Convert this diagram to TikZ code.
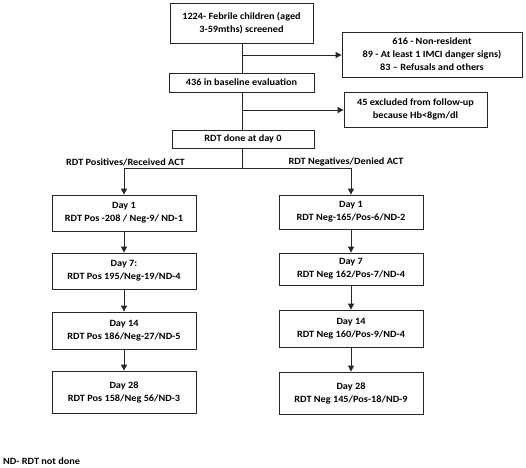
\documentclass[tikz,border=0pt]{standalone}
\usepackage{fontspec}
\setmainfont{Carlito}[FakeStretch=1.07]
\usetikzlibrary{arrows.meta}
\begin{document}
\begin{tikzpicture}[x=1pt,y=-1pt,
  box/.style={draw=black!85,line width=0.8pt,align=center,inner sep=1pt,
    font=\fontsize{9.6}{13}\selectfont\bfseries},
  lbl/.style={font=\fontsize{9.6}{13}\selectfont\bfseries,inner sep=0pt},
  arr/.style={line width=0.8pt,draw=black!85,-{Triangle[length=6pt,width=6pt]}},
  ln/.style={line width=0.8pt,draw=black!85}]
\useasboundingbox (0,0) rectangle (526,467);
\node[box,minimum width=143pt,minimum height=40pt] (b1) at (241.5,23) {1224- Febrile children (aged\\3-59mths) screened};
\node[box,minimum width=180pt,minimum height=45pt] (ex1) at (432,54.5) {616 - Non-resident\\89 - At least 1 IMCI danger signs)\\83 -- Refusals and others};
\node[box,minimum width=145pt,minimum height=19pt] (b2) at (241.5,82.5) {436 in baseline evaluation};
\node[box,minimum width=143pt,minimum height=35pt] (ex2) at (415.5,109.5) {45 excluded from follow-up\\because Hb<8gm/dl};
\node[box,minimum width=142pt,minimum height=18pt] (b3) at (243,139) {RDT done at day 0};
\node[box,minimum width=144pt,minimum height=36pt] (l1) at (124,213) {Day 1\\RDT Pos -208 / Neg-9/ ND-1};
\node[box,minimum width=144pt,minimum height=36pt] (l2) at (124,271) {Day 7:\\RDT Pos 195/Neg-19/ND-4};
\node[box,minimum width=144pt,minimum height=37pt] (l3) at (124,330.5) {Day 14\\RDT Pos 186/Neg-27/ND-5};
\node[box,minimum width=144pt,minimum height=42pt] (l4) at (124,392) {Day 28\\RDT Pos 158/Neg 56/ND-3};
\node[box,minimum width=144pt,minimum height=34pt] (r1) at (351,212) {Day 1\\RDT Neg-165/Pos-6/ND-2};
\node[box,minimum width=144pt,minimum height=32pt] (r2) at (351,269) {Day 7\\RDT Neg 162/Pos-7/ND-4};
\node[box,minimum width=144pt,minimum height=37pt] (r3) at (351,328.5) {Day 14\\RDT Neg 160/Pos-9/ND-4};
\node[box,minimum width=144pt,minimum height=42pt] (r4) at (351,393) {Day 28\\RDT Neg 145/Pos-18/ND-9};
\node[lbl] (lp) at (125.5,162) {RDT Positives/Received ACT};
\node[lbl] (ln) at (346,161.5) {RDT Negatives/Denied ACT};
\node[lbl,anchor=west] (nd) at (3,461) {ND- RDT not done};
\coordinate (j1) at (242,55);
\coordinate (j2) at (242,110);
\coordinate (j3) at (242,168);
\coordinate (jl) at (124,168);
\coordinate (jr) at (351,168);
\draw[ln] (b1.south -| j1) -- (b2.north -| j1);
\draw[ln] (b2.south -| j1) -- (b3.north -| j1);
\draw[arr] (j1) -- (ex1.west |- j1);
\draw[arr] (j2) -- (ex2.west |- j2);
\draw[ln] (b3.south -| j3) -- (j3);
\draw[ln] (jl) -- (jr);
\draw[arr] (jl) -- (l1.north);
\draw[arr] (jr) -- (r1.north);
\draw[arr] (l1) -- (l2);
\draw[arr] (l2) -- (l3);
\draw[arr] (l3) -- (l4);
\draw[arr] (r1) -- (r2);
\draw[arr] (r2) -- (r3);
\draw[arr] (r3) -- (r4);
\end{tikzpicture}
\end{document}
